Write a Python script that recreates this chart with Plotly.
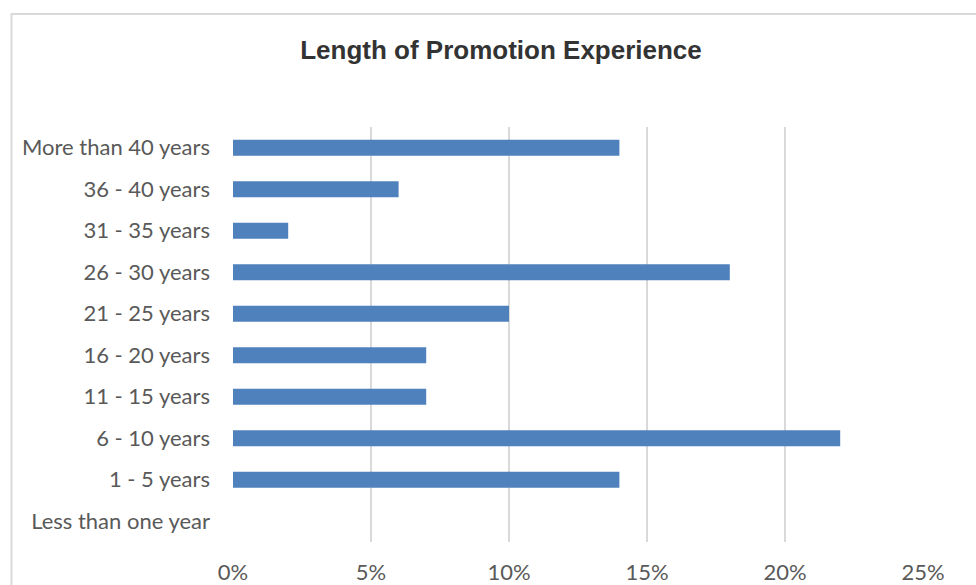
import plotly.graph_objects as go

categories = [
    "Less than one year", "1 - 5 years", "6 - 10 years", "11 - 15 years",
    "16 - 20 years", "21 - 25 years", "26 - 30 years", "31 - 35 years",
    "36 - 40 years", "More than 40 years",
]
shares = [0.0, 0.14, 0.22, 0.07, 0.07, 0.10, 0.18, 0.02, 0.06, 0.14]
x_ticks = [0, 0.05, 0.10, 0.15, 0.20, 0.25]
x_tick_labels = ["0%", "5%", "10%", "15%", "20%", "25%"]

W, H = 976, 585
L, R, T, B = 233, 53, 127, 43
pw, ph = W - L - R, H - T - B

fig = go.Figure(go.Bar(
    x=shares, y=categories, orientation="h",
    marker=dict(color="#4F81BD", line=dict(width=0)),
))

fig.update_layout(
    width=W, height=H,
    margin=dict(l=L, r=R, t=T, b=B, autoexpand=False),
    paper_bgcolor="white", plot_bgcolor="white",
    bargap=0.615, showlegend=False,
    title=dict(
        text="<b>Length of Promotion Experience</b>",
        x=501 / W, xref="container", xanchor="center",
        y=1 - 50 / H, yref="container", yanchor="middle",
        font=dict(family="Liberation Sans, Arial", size=26, color="#333333"),
    ),
    font=dict(family="Lato, Noto Sans", size=22, color="#595959"),
    xaxis=dict(
        range=[0, 0.25], tickvals=x_ticks, ticktext=x_tick_labels,
        showgrid=True, gridcolor="#D9D9D9", gridwidth=2,
        zeroline=False, showline=False, ticks="",
        ticklabelstandoff=15, fixedrange=True, automargin=False,
    ),
    yaxis=dict(
        categoryorder="array", categoryarray=categories,
        showgrid=False, zeroline=False, showline=False, ticks="",
        ticklabelstandoff=22, fixedrange=True, automargin=False,
    ),
    shapes=[dict(
        type="rect", xref="paper", yref="paper",
        x0=(11.5 - L) / pw, x1=(W + 20 - L) / pw,
        y0=-(B + 20) / ph, y1=(ph + T - 14) / ph,
        line=dict(color="#D9D9D9", width=2), fillcolor="rgba(0,0,0,0)",
        layer="below",
    )],
)

fig.write_html("out.html")
